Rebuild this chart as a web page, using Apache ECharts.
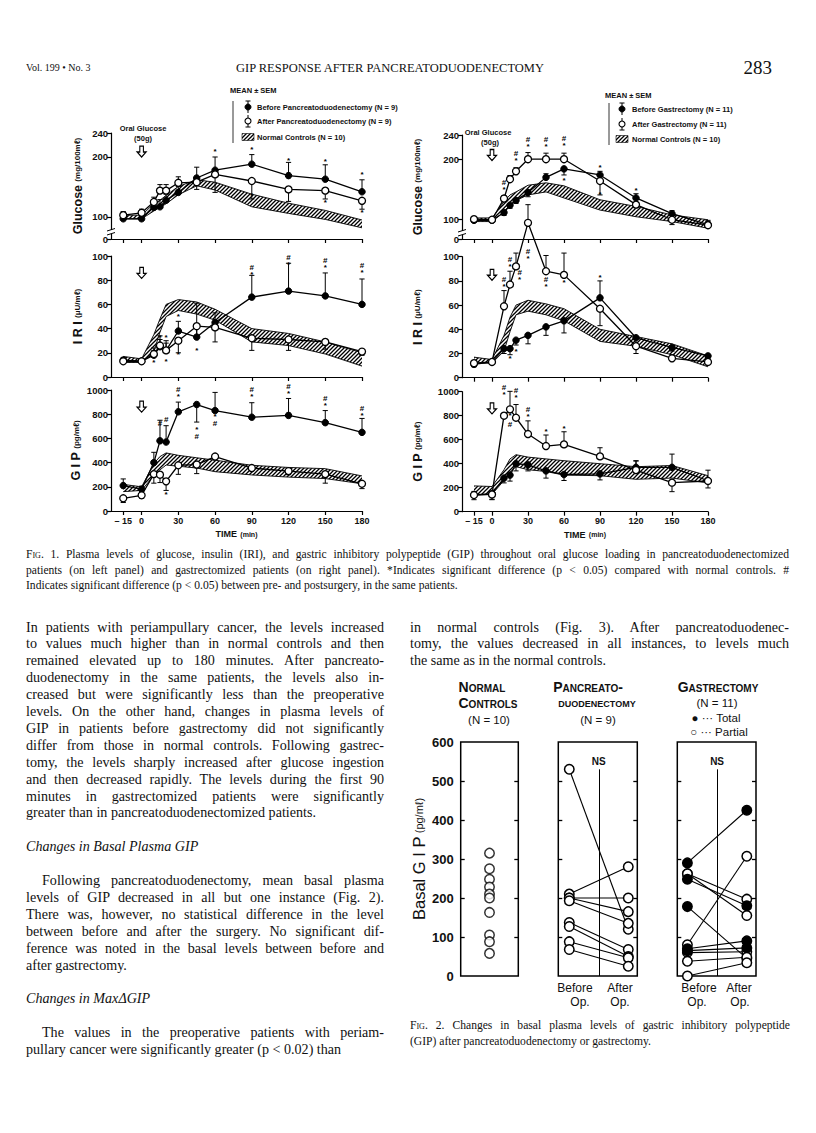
<!DOCTYPE html>
<html><head><meta charset="utf-8"><title>GIP response after pancreatoduodenectomy</title>
<script src="https://cdn.jsdelivr.net/npm/echarts@6.0.0/dist/echarts.min.js"></script>
<style>
html,body{margin:0;padding:0;background:#fff;}
#page{position:relative;width:816px;height:1133px;overflow:hidden;background:#fff;}
#chart{position:absolute;left:0;top:0;width:816px;height:1133px;}
.tx{position:absolute;white-space:nowrap;color:#111;}
.serif{font-family:"Liberation Serif","DejaVu Serif",serif;}
.sans{font-family:"Liberation Sans","DejaVu Sans",Arial,sans-serif;}
.jus{text-align:justify;text-align-last:justify;}
.sc{font-variant:small-caps;}
</style></head>
<body><div id="page"><div id="chart"></div></div>
<script>
// ---------------- Fig. 1 data (time in minutes) ----------------
const times = [-15, 0, 10, 15, 20, 30, 45, 60, 90, 120, 150, 180];
const timeTicks = [-15, 0, 30, 60, 90, 120, 150, 180];

// Left panels: pancreatoduodenectomy
const pdGlucoseBefore = [97, 97, 116, 117, 128, 141, 165, 178, 188, 169, 163, 142];
const pdGlucoseBeforeErr = [6, 6, 10, 12, 10, 10, 18, 22, 16, 22, 24, 20];
const pdGlucoseAfter = [103, 107, 125, 144, 144, 157, 158, 171, 160, 146, 144, 127];
const pdGlucoseAfterErr = [6, 6, 8, 10, 10, 10, -12, -30, -30, -20, -14, -14];
const pdGlucoseNormLo = [97, 97, 110, 116, 122, 137, 152, 145, 117, 106, 96, 82];
const pdGlucoseNormHi = [103, 103, 122, 128, 136, 151, 162, 158, 138, 123, 111, 95];
const pdGlucoseMarks = [[60,209,'*'],[90,212,'*'],[120,194,'*'],[150,193,'*'],[180,171,'*'],[90,135,'*'],[150,124,'*'],[180,108,'*']];

const pdIriBefore = [14, 13, 18, 25, 22, 38, 33, 45, 66, 71, 67, 60];
const pdIriBeforeErr = [2, 2, 4, 6, 6, 8, 28, 8, 18, 23, 19, 21];
const pdIriAfter = [13, 13, 19, 26, 22, 30, 42, 41, 32, 31, 29, 21];
const pdIriAfterErr = [2, 2, 5, 8, 8, -10, -8, -12, -10, -9, -6, -3];
const pdIriNormLo = [12, 12, 21, 37, 50, 55, 52, 47, 29, 26, 19, 9];
const pdIriNormHi = [17, 15, 35, 48, 60, 64, 62, 56, 40, 36, 29, 20];
const pdIriMarks = [[10,12,'*'],[15,33,'*'],[20,33,'*'],[20,13,'*'],[30,50,'*'],[30,19,'*'],[45,22,'*'],[90,88,'#\n*'],[120,96,'#\n*'],[150,93,'#\n*'],[180,89,'#\n*']];

const pdGipBefore = [210, 180, 400, 580, 570, 820, 880, 830, 775, 790, 730, 650];
const pdGipBeforeErr = [55, 25, 85, 170, 135, 80, -145, 150, 120, 140, 100, 115];
const pdGipAfter = [105, 130, 305, 300, 245, 378, 384, 450, 355, 330, 305, 225];
const pdGipAfterErr = [-35, -25, -75, -65, -75, -75, -75, -15, -15, -30, -75, -40];
const pdGipNormLo = [160, 170, 295, 340, 380, 370, 355, 325, 298, 280, 268, 225];
const pdGipNormHi = [220, 200, 392, 450, 480, 460, 440, 420, 378, 360, 350, 290];
const pdGipMarks = [[15,720,'#'],[20,755,'#'],[30,972,'#\n*'],[45,648,'*\n#'],[60,752,'*\n#'],[90,972,'#\n*'],[120,1000,'#\n*'],[150,903,'#\n*'],[180,820,'#\n*'],[20,135,'*']];

// Right panels: gastrectomy
const gaGlucoseBefore = [99, 99, 112, 124, 132, 145, 170, 184, 174, 136, 110, 92];
const gaGlucoseBeforeErr = [-3, -3, -5, -5, -5, -7, 6, -10, 6, 7, 5, 5];
const gaGlucoseAfter = [101, 100, 135, 167, 180, 200, 200, 200, 164, 125, 100, 91];
const gaGlucoseAfterErr = [3, 3, 5, 6, 6, 11, 10, 10, -23, -5, -8, 8];
const gaGlucoseNormLo = [97, 97, 113, 124, 132, 141, 146, 136, 116, 105, 97, 86];
const gaGlucoseNormHi = [103, 103, 130, 141, 146, 157, 161, 156, 133, 122, 108, 100];
const gaGlucoseMarks = [[10,155,'#\n*'],[20,204,'#\n*'],[30,227,'#\n*'],[45,227,'#\n*'],[60,228,'#\n*'],[60,165,'*'],[90,187,'*'],[90,142,'*'],[120,149,'*']];

const gaIriBefore = [11, 13, 24, 24, 31, 35, 42, 47, 66, 33, 25, 18];
const gaIriBeforeErr = [-2, -2, -4, -5, -4, -7, -7, -10, 14, -8, -3, -3];
const gaIriAfter = [12, 13, 59, 77, 92, 128, 88, 85, 57, 26, 16, 13];
const gaIriAfterErr = [2, 2, 13, 11, 11, 15, 13, 18, -14, -6, 3, 3];
const gaIriNormLo = [12, 12, 22, 38, 52, 55, 52, 47, 30, 26, 19, 9];
const gaIriNormHi = [17, 15, 35, 50, 60, 64, 61, 57, 40, 34, 28, 18];
const gaIriMarks = [[10,78,'#\n*'],[15,95,'#\n*'],[23,84,'#\n*'],[30,101,'#\n*'],[45,78,'#\n*'],[60,79,'*'],[90,83,'*'],[15,16,'*'],[20,22,'*']];

const gaGipBefore = [140, 150, 280, 305, 400, 390, 340, 310, 315, 370, 370, 258];
const gaGipBeforeErr = [-40, -50, -40, -50, -60, -50, -60, -50, -50, 55, 110, -60];
const gaGipAfter = [139, 144, 800, 853, 783, 647, 547, 561, 461, 347, 242, 256];
const gaGipAfterErr = [30, -40, 0, 150, 110, 110, 92, 105, 72, 75, -75, 90];
const gaGipNormLo = [140, 145, 260, 330, 375, 350, 335, 305, 300, 270, 280, 240];
const gaGipNormHi = [215, 210, 350, 440, 475, 455, 440, 425, 400, 375, 385, 300];
const gaGipMarks = [[10,1002,'#\n*'],[15,805,'*'],[15,728,'#'],[20,981,'#\n*'],[30,826,'#\n*'],[45,667,'*'],[60,694,'*']];

// ---------------- Fig. 2 data (basal GIP, pg/ml) ----------------
const normalControls = [315, 275, 248, 228, 210, 200, 163, 105, 88, 58];
const pdBasalBefore = [530, 210, 200, 200, 193, 137, 127, 88, 68];
const pdBasalAfter = [120, 280, 200, 165, 135, 68, 50, 47, 25];
const gaBasalBefore = [290, 262, 262, 248, 178, 80, 70, 60, 65, 38, 0];
const gaBasalAfter = [425, 197, 155, 180, 45, 307, 90, 62, 72, 48, 34];
const gaType = ['Total','Partial','Partial','Total','Total','Partial','Total','Partial','Total','Partial','Partial'];
const basalTicks = [0, 100, 200, 300, 400, 500, 600];

// ---------------- Page text ----------------
const para1 = [
 "In patients with periampullary cancer, the levels increased",
 "to values much higher than in normal controls and then",
 "remained elevated up to 180 minutes. After pancreato-",
 "duodenectomy in the same patients, the levels also in-",
 "creased but were significantly less than the preoperative",
 "levels. On the other hand, changes in plasma levels of",
 "GIP in patients before gastrectomy did not significantly",
 "differ from those in normal controls. Following gastrec-",
 "tomy, the levels sharply increased after glucose ingestion",
 "and then decreased rapidly. The levels during the first 90",
 "minutes in gastrectomized patients were significantly",
 "greater than in pancreatoduodenectomized patients."];
const heading1 = "Changes in Basal Plasma GIP";
const para2 = [
 "Following pancreatoduodenectomy, mean basal plasma",
 "levels of GIP decreased in all but one instance (Fig. 2).",
 "There was, however, no statistical difference in the level",
 "between before and after the surgery. No significant dif-",
 "ference was noted in the basal levels between before and",
 "after gastrectomy."];
const heading2 = "Changes in MaxΔGIP";
const para3 = [
 "The values in the preoperative patients with periam-",
 "pullary cancer were significantly greater (p < 0.02) than"];
const paraRight = [
 "in normal controls (Fig. 3). After pancreatoduodenec-",
 "tomy, the values decreased in all instances, to levels much",
 "the same as in the normal controls."];
const fig1Caption = [
 "<span class='sc'>Fig</span>. 1. Plasma levels of glucose, insulin (IRI), and gastric inhibitory polypeptide (GIP) throughout oral glucose loading in pancreatoduodenectomized",
 "patients (on left panel) and gastrectomized patients (on right panel). *Indicates significant difference (p &lt; 0.05) compared with normal controls. #",
 "Indicates significant difference (p &lt; 0.05) between pre- and postsurgery, in the same patients."];
const fig2Caption = [
 "<span class='sc'>Fig</span>. 2. Changes in basal plasma levels of gastric inhibitory polypeptide",
 "(GIP) after pancreatoduodenectomy or gastrectomy."];

// ---------------- HTML text placement ----------------
const page = document.getElementById('page');
function addText(html, left, top, opts) {
  const d = document.createElement('div');
  d.className = 'tx ' + (opts.cls || '');
  d.style.left = left + 'px';
  d.style.top = top + 'px';
  if (opts.width) d.style.width = opts.width + 'px';
  d.style.fontSize = opts.size + 'px';
  d.style.lineHeight = (opts.lh || opts.size * 1.2) + 'px';
  if (opts.style) d.style.cssText += opts.style;
  d.innerHTML = html;
  page.appendChild(d);
  return d;
}
function addPara(lines, x, w, yc, lh, size, indent) {
  lines.forEach((t, k) => {
    const last = k === lines.length - 1;
    const ind = (k === 0 && indent) ? indent : 0;
    addText(t, x + ind, yc + k * lh - lh / 2, {cls: 'serif' + (last ? '' : ' jus'), width: w - ind, size, lh});
  });
}
// header
addText("Vol. 199 • No. 3", 26, 61, {cls:'serif', size:10, lh:14});
addText("GIP RESPONSE AFTER PANCREATODUODENECTOMY", 190, 60, {cls:'serif', size:12.5, lh:16, width:400, style:'text-align:center;'});
addText("283", 700, 57, {cls:'serif', size:19, lh:22, width:72, style:'text-align:right;'});
// captions
addPara(fig1Caption, 26, 763, 555, 15.2, 11.6, 0);
addPara(fig2Caption, 410, 380, 1026, 15.2, 11.6, 0);
// body text
const LH = 16.9, Y0 = 627, FS = 14.1;
addPara(para1, 26, 358, Y0, LH, FS, 0);
addText(heading1, 26, Y0 + 13 * LH - LH / 2, {cls:'serif', size:FS, lh:LH, style:'font-style:italic;'});
addPara(para2, 26, 358, Y0 + 15 * LH, LH, FS, 16);
addText(heading2, 26, Y0 + 22 * LH - LH / 2, {cls:'serif', size:FS, lh:LH, style:'font-style:italic;'});
addPara(para3, 26, 358, Y0 + 24 * LH, LH, FS, 16);
addPara(paraRight, 410, 379, Y0, LH, FS, 0);
// Fig. 2 headers and x labels
function center(html, cx, cy, size, extra) {
  addText(html, cx - 80, cy - size * 0.65, {cls:'sans', width:160, size, lh:size * 1.3, style:'text-align:center;' + (extra || '')});
}
center("<span class='sc'>Normal</span>", 482, 687, 14, 'font-weight:bold;');
center("<span class='sc'>Controls</span>", 488, 703, 14, 'font-weight:bold;');
center("(N = 10)", 489, 720, 11.5);
center("<span class='sc'>Pancreato-</span>", 588, 687, 14, 'font-weight:bold;');
center("<span class='sc'>duodenectomy</span>", 597, 703, 13.5, 'font-weight:bold;');
center("(N = 9)", 598, 720, 11.5);
center("<span class='sc'>Gastrectomy</span>", 718, 687, 14, 'font-weight:bold;');
center("(N = 11)", 717, 703, 11.5);
center("● ··· Total", 716, 718, 11.5);
center("○ ··· Partial", 719, 732, 11.5);
center("Before", 575, 989, 12); center("Op.", 580, 1003, 12);
center("After", 620, 989, 12); center("Op.", 620, 1003, 12);
center("Before", 699, 989, 12); center("Op.", 697, 1003, 12);
center("After", 739, 989, 12); center("Op.", 740, 1003, 12);

// ---------------- ECharts ----------------
const FONT = "'Liberation Sans', Arial, sans-serif";
const NARROW = "'Liberation Sans Narrow', 'Liberation Sans', sans-serif";
const hatchURL = (() => {
  const c = document.createElement('canvas'); c.width = 4; c.height = 4;
  const g = c.getContext('2d');
  g.fillStyle = '#fff'; g.fillRect(0, 0, 4, 4);
  g.strokeStyle = '#000'; g.lineWidth = 1.3; g.beginPath();
  g.moveTo(0, 4); g.lineTo(4, 0); g.moveTo(-1, 1); g.lineTo(1, -1); g.moveTo(3, 5); g.lineTo(5, 3);
  g.stroke();
  return c.toDataURL();
})();
const hatchFill = {image: hatchURL, repeat: 'repeat', imageWidth: 4, imageHeight: 4};

const glucoseName = '{a|Glucose} {b|(mg/100mℓ)}';
const iriName = '{a|I R I} {b|(μU/mℓ)}';
const gipName = '{a|G I P} {b|(pg/mℓ)}';
const fig1Panels = [
 {left:111, top:133, width:251, height:106, ymin:63.33, ymax:240, ticks:[63.33,100,200,240], name:glucoseName, gap:27, bottom:false, arrow:209,
  before:pdGlucoseBefore, beforeErr:pdGlucoseBeforeErr, after:pdGlucoseAfter, afterErr:pdGlucoseAfterErr, lo:pdGlucoseNormLo, hi:pdGlucoseNormHi, marks:pdGlucoseMarks},
 {left:111, top:256, width:251, height:121, ymin:0, ymax:100, ticks:[0,20,40,60,80,100], name:iriName, gap:27, bottom:false, arrow:86,
  before:pdIriBefore, beforeErr:pdIriBeforeErr, after:pdIriAfter, afterErr:pdIriAfterErr, lo:pdIriNormLo, hi:pdIriNormHi, marks:pdIriMarks},
 {left:111, top:390, width:251, height:121, ymin:0, ymax:1000, ticks:[0,200,400,600,800,1000], name:gipName, gap:27, bottom:true, arrow:862,
  before:pdGipBefore, beforeErr:pdGipBeforeErr, after:pdGipAfter, afterErr:pdGipAfterErr, lo:pdGipNormLo, hi:pdGipNormHi, marks:pdGipMarks},
 {left:462, top:135, width:246, height:104, ymin:68.2, ymax:240, ticks:[68.2,100,200,240], name:glucoseName, gap:38, bottom:false, arrow:207,
  before:gaGlucoseBefore, beforeErr:gaGlucoseBeforeErr, after:gaGlucoseAfter, afterErr:gaGlucoseAfterErr, lo:gaGlucoseNormLo, hi:gaGlucoseNormHi, marks:gaGlucoseMarks},
 {left:462, top:256.7, width:246, height:121, ymin:0, ymax:100, ticks:[0,20,40,60,80,100], name:iriName, gap:38, bottom:false, arrow:85,
  before:gaIriBefore, beforeErr:gaIriBeforeErr, after:gaIriAfter, afterErr:gaIriAfterErr, lo:gaIriNormLo, hi:gaIriNormHi, marks:gaIriMarks},
 {left:462, top:391.7, width:246, height:120, ymin:0, ymax:1000, ticks:[0,200,400,600,800,1000], name:gipName, gap:38, bottom:true, arrow:861,
  before:gaGipBefore, beforeErr:gaGipBeforeErr, after:gaGipAfter, afterErr:gaGipAfterErr, lo:gaGipNormLo, hi:gaGipNormHi, marks:gaGipMarks}
];

const grids = [], xAxes = [], yAxes = [], series = [];
const axisLineStyle = {color:'#000', width:1.2};
const nameRich = {a:{fontSize:12.5, fontWeight:'bold', fontFamily:FONT, color:'#111'}, b:{fontSize:8, fontWeight:'bold', fontFamily:FONT, color:'#111'}};
const pts = arr => times.map((t, k) => [t, arr[k]]);

function bandSeries(i, lo, hi) {
  return {type:'custom', xAxisIndex:i, yAxisIndex:i, z:2, silent:true, clip:false,
    data: times.map((t, k) => [t, lo[k], hi[k]]),
    renderItem: (params, api) => {
      if (params.dataIndex !== 0) return null;
      const up = times.map((t, k) => api.coord([t, hi[k]]));
      const dn = times.map((t, k) => api.coord([t, lo[k]]));
      return {type:'group', children:[
        {type:'polygon', shape:{points: up.concat(dn.slice().reverse())}, style:{fill:hatchFill, stroke:null}},
        {type:'polyline', shape:{points:up}, style:{stroke:'#000', lineWidth:0.9, fill:null}},
        {type:'polyline', shape:{points:dn}, style:{stroke:'#000', lineWidth:0.9, fill:null}}
      ]};
    }};
}
function errSeries(i, vals, errs) {
  return {type:'custom', xAxisIndex:i, yAxisIndex:i, z:4, silent:true, clip:false,
    data: times.map((t, k) => [t, vals[k], errs[k]]),
    renderItem: (params, api) => {
      const t = api.value(0), v = api.value(1), e = api.value(2);
      if (!e) return null;
      const a = api.coord([t, v]), b = api.coord([t, v + e]);
      return {type:'group', children:[
        {type:'line', shape:{x1:a[0], y1:a[1], x2:b[0], y2:b[1]}, style:{stroke:'#000', lineWidth:1}},
        {type:'line', shape:{x1:a[0]-2.6, y1:b[1], x2:a[0]+2.6, y2:b[1]}, style:{stroke:'#000', lineWidth:1}}
      ]};
    }};
}
function markSeries(i, marks) {
  return {type:'custom', xAxisIndex:i, yAxisIndex:i, z:8, silent:true, clip:false,
    data: marks.map(m => [m[0], m[1]]),
    renderItem: (params, api) => {
      const p = api.coord([api.value(0), api.value(1)]);
      return {type:'text', x:p[0], y:p[1], style:{text: marks[params.dataIndex][2], fill:'#000',
        font:"bold 8px 'Liberation Sans'", lineHeight:7, align:'center', verticalAlign:'middle'}};
    }};
}

fig1Panels.forEach((p, i) => {
  grids.push({left:p.left, top:p.top, width:p.width, height:p.height});
  xAxes.push({gridIndex:i, type:'value', min:-25, max:180,
    axisLine:{show:true, onZero:false, lineStyle:axisLineStyle},
    axisTick:{show:true, inside:false, length:4, customValues:timeTicks, lineStyle:axisLineStyle},
    axisLabel:{show:p.bottom, customValues:timeTicks, formatter: v => v < 0 ? '– 15' : String(v),
      color:'#111', fontSize:9, fontWeight:'bold', fontFamily:FONT, margin:5},
    splitLine:{show:false},
    name: p.bottom ? '{a|TIME} {b|(min)}' : '', nameLocation:'middle', nameGap:17,
    nameTextStyle:{rich:{a:{fontSize:9, fontWeight:'bold', fontFamily:FONT, color:'#111'}, b:{fontSize:7, fontWeight:'bold', fontFamily:FONT, color:'#111'}}}
  });
  const zeroBelow = p.ticks[1];
  yAxes.push({gridIndex:i, type:'value', min:p.ymin, max:p.ymax,
    axisLine:{show:true, onZero:false, lineStyle:axisLineStyle},
    axisTick:{show:true, inside:false, length:4, customValues:p.ticks, lineStyle:axisLineStyle},
    axisLabel:{customValues:p.ticks, formatter: v => (v > 0 && v < zeroBelow) ? '0' : String(Math.round(v)),
      color:'#111', fontSize:9.5, fontWeight:'bold', fontFamily:FONT, margin:3},
    splitLine:{show:false},
    name:p.name, nameLocation:'middle', nameRotate:90, nameGap:p.gap, nameTextStyle:{rich:nameRich}
  });
  series.push(bandSeries(i, p.lo, p.hi));
  series.push(errSeries(i, p.before, p.beforeErr));
  series.push(errSeries(i, p.after, p.afterErr));
  series.push({type:'line', xAxisIndex:i, yAxisIndex:i, data:pts(p.before), symbol:'circle', symbolSize:6.5,
    itemStyle:{color:'#000', borderColor:'#000', borderWidth:1}, lineStyle:{color:'#000', width:1.3},
    z:5, clip:false, silent:true,
    markPoint:{silent:true, symbol:'path://M3,0L7,0L7,7L10,7L5,13L0,7L3,7Z', symbolSize:[9,11],
      itemStyle:{color:'#fff', borderColor:'#000', borderWidth:1.2}, label:{show:false},
      data:[{coord:[0, p.arrow]}]}});
  series.push({type:'line', xAxisIndex:i, yAxisIndex:i, data:pts(p.after), symbol:'circle', symbolSize:7,
    itemStyle:{color:'#fff', borderColor:'#000', borderWidth:1.3}, lineStyle:{color:'#000', width:1.3},
    z:6, clip:false, silent:true});
  series.push(markSeries(i, p.marks));
});

// ---- Fig. 2 ----
const fig2Grids = [
 {left:460.7, top:742, width:57.6, height:234, xmin:-1, xmax:1, labels:true},
 {left:558.3, top:742, width:79, height:234, xmin:-0.186, xmax:1.153, labels:false},
 {left:677.3, top:742, width:78.7, height:234, xmin:-0.17, xmax:1.155, labels:false}
];
const innerTicks = [100, 200, 300, 400, 500];
fig2Grids.forEach((g, j) => {
  const gi = 6 + j;
  grids.push({left:g.left, top:g.top, width:g.width, height:g.height, show:true, borderColor:'#000', borderWidth:1.5, backgroundColor:'transparent'});
  xAxes.push({gridIndex:gi, type:'value', min:g.xmin, max:g.xmax, show:false, axisLine:{onZero:false}});
  yAxes.push({gridIndex:gi, type:'value', min:0, max:600, position:'left',
    axisLine:{show:false, onZero:false}, splitLine:{show:false},
    axisTick:{show:true, inside:true, length:4, customValues:innerTicks, lineStyle:{color:'#000', width:1.3}},
    axisLabel:{show:g.labels, customValues:basalTicks, color:'#111', fontSize:13, fontWeight:'bold', fontFamily:FONT, margin:7},
    name: g.labels ? '{a|Basal G I P} {b|(pg/mℓ)}' : '', nameLocation:'middle', nameRotate:90, nameGap:33,
    nameTextStyle:{rich:{a:{fontSize:16.5, fontFamily:FONT, color:'#111'}, b:{fontSize:11, fontFamily:FONT, color:'#111'}}}
  });
  yAxes.push({gridIndex:gi, type:'value', min:0, max:600, position:'right',
    axisLine:{show:false, onZero:false}, splitLine:{show:false}, axisLabel:{show:false},
    axisTick:{show:true, inside:true, length:4, customValues:innerTicks, lineStyle:{color:'#000', width:1.3}}
  });
});
const openSym = {color:'#fff', borderColor:'#000', borderWidth:1.5};
const fillSym = {color:'#000', borderColor:'#000', borderWidth:1.5};
series.push({type:'scatter', xAxisIndex:6, yAxisIndex:6, data:normalControls.map(v => [0, v]),
  symbol:'circle', symbolSize:9.5, itemStyle:openSym, z:6, silent:true});
const midLine = {silent:true, symbol:['none','none'], lineStyle:{color:'#000', width:1, type:'solid'},
  label:{show:true, position:'end', formatter:'NS', color:'#111', fontSize:10, fontWeight:'bold', fontFamily:FONT, distance:3},
  data:[[{coord:[0.5, 0]}, {coord:[0.5, 530]}]]};
pdBasalBefore.forEach((b, k) => {
  const s = {type:'line', xAxisIndex:7, yAxisIndex:8, data:[[0, b], [1, pdBasalAfter[k]]], symbol:'circle', symbolSize:9.5,
    itemStyle:openSym, lineStyle:{color:'#000', width:1.1}, z:5, silent:true, clip:false};
  if (k === 0) s.markLine = midLine;
  series.push(s);
});
gaBasalBefore.forEach((b, k) => {
  const s = {type:'line', xAxisIndex:8, yAxisIndex:10, data:[[0, b], [1, gaBasalAfter[k]]], symbol:'circle', symbolSize:9.5,
    itemStyle: gaType[k] === 'Total' ? fillSym : openSym, lineStyle:{color:'#000', width:1.1}, z:5, silent:true, clip:false};
  if (k === 0) s.markLine = midLine;
  series.push(s);
});

// ---- annotations (legends, oral glucose labels, axis breaks) ----
const gfx = [];
function gText(text, x, y, font, align) {
  gfx.push({type:'text', x, y, z:50, style:{text, font, fill:'#111', align: align || 'left', verticalAlign:'middle'}});
}
function gLine(x1, y1, x2, y2, w) {
  gfx.push({type:'line', z:50, shape:{x1, y1, x2, y2}, style:{stroke:'#000', lineWidth:w || 1}});
}
function legend(x0, yTitle, rows, bracketX, symX, textX, labels) {
  gText('MEAN ± SEM', x0, yTitle, "bold 7.5px " + NARROW);
  gLine(bracketX, rows[0] - 6, bracketX, rows[2] + 6, 0.8);
  gLine(symX, rows[0] - 6, symX, rows[0] + 6, 1); gLine(symX - 2.5, rows[0] - 6, symX + 2.5, rows[0] - 6, 1);
  gfx.push({type:'circle', z:51, shape:{cx:symX, cy:rows[0], r:3}, style:{fill:'#000', stroke:'#000'}});
  gLine(symX, rows[1] - 6, symX, rows[1] + 6, 1); gLine(symX - 2.5, rows[1] + 6, symX + 2.5, rows[1] + 6, 1);
  gfx.push({type:'circle', z:51, shape:{cx:symX, cy:rows[1], r:3}, style:{fill:'#fff', stroke:'#000', lineWidth:1.1}});
  gfx.push({type:'rect', z:51, shape:{x:symX - 6, y:rows[2] - 3.5, width:12, height:7}, style:{fill:hatchFill, stroke:'#000', lineWidth:0.6}});
  labels.forEach((l, k) => gText(l, textX, rows[k], "bold 7.5px " + NARROW));
}
legend(230, 90, [107, 121, 137], 233, 248, 257,
  ['Before Pancreatoduodenectomy (N = 9)', 'After Pancreatoduodenectomy (N = 9)', 'Normal Controls (N = 10)']);
legend(605, 95, [109, 124, 139], 609, 622, 632,
  ['Before Gastrectomy (N = 11)', 'After Gastrectomy (N = 11)', 'Normal Controls (N = 10)']);
gText('Oral Glucose', 143, 128, "bold 7.5px " + NARROW, 'center');
gText('(50g)', 143, 138.5, "bold 7.5px " + NARROW, 'center');
gText('Oral Glucose', 488, 132, "bold 7.5px " + NARROW, 'center');
gText('(50g)', 490, 142, "bold 7.5px " + NARROW, 'center');
[[111, 232], [462, 233]].forEach(([x, y]) => {
  gfx.push({type:'rect', z:49, shape:{x:x - 3, y:y - 2, width:6, height:4}, style:{fill:'#fff'}});
  gLine(x - 4, y - 1, x + 4, y - 3.5, 1); gLine(x - 4, y + 3, x + 4, y + 0.5, 1);
});

const chart = echarts.init(document.getElementById('chart'), null, {renderer:'svg', width:816, height:1133});
chart.setOption({
  animation:false,
  backgroundColor:'transparent',
  grid:grids, xAxis:xAxes, yAxis:yAxes, series,
  graphic:{elements:gfx}
});
</script></body></html>
